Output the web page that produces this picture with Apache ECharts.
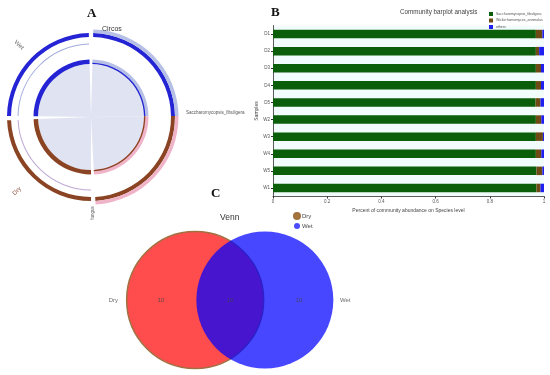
<!DOCTYPE html>
<html><head><meta charset="utf-8">
<script src="https://cdn.jsdelivr.net/npm/echarts@6/dist/echarts.min.js"></script>
<style>html,body{margin:0;padding:0;background:#fff}#c{width:550px;height:375px}</style>
</head><body><div id="c"></div>
<script>
// ---- Panel B data ----
const barCategories = ['D1','D2','D3','D4','D5','W2','W3','W4','W5','W1'];
const speciesNames = ['Saccharomycopsis_fibuligera','Wickerhamomyces_anomalus','others'];
const sacchValues  = [0.970,0.970,0.970,0.970,0.969,0.970,0.970,0.970,0.972,0.972];
const wickValues   = [0.024,0.012,0.019,0.019,0.018,0.020,0.026,0.020,0.022,0.015];
const otherValues  = [0.006,0.018,0.011,0.011,0.013,0.010,0.004,0.010,0.006,0.013];
// ---- Panel A data ----
const circosSamples = ['Dry','Wet'];
const circosSpecies = 'Saccharomycopsis_fibuligera';
const circosGroupLabel = 'fungus';
// ---- Panel C data ----
const vennSets = ['Dry','Wet'];
const vennRegionCounts = [10, 10, 10]; // Dry only, shared, Wet only

const dryAb = sacchValues.filter((v,i)=>barCategories[i][0]==='D').reduce((a,b)=>a+b,0);
const wetAb = sacchValues.filter((v,i)=>barCategories[i][0]==='W').reduce((a,b)=>a+b,0);
const total = 2*(dryAb+wetAb);
const gap = total/117;
const T = 'rgba(0,0,0,0)';
const C = [91,117];
function ring(radius, cols, z){
  const vals = [wetAb, dryAb, gap, dryAb, gap, wetAb, gap];
  const names = [circosSpecies+'-Wet', circosSpecies+'-Dry','g1',circosSamples[0],'g2',circosSamples[1],'g3'];
  return {type:'pie', center:C, radius:radius, startAngle:90-1.5, clockwise:true, silent:true,
    animation:false, z:z, label:{show:false}, labelLine:{show:false}, minAngle:0, avoidLabelOverlap:false,
    emphasis:{disabled:true},
    data: vals.map((v,i)=>({name:names[i], value:v, itemStyle:{color:cols[i], borderWidth:0}}))};
}
const BL='#2424d4', BR='#8a4424', LB='#b6c0e6', PK='#f0b4c8', LAV='#e0e4f2';
const pies = [
  ring([0,53], [LAV,LAV,T,LAV,T,LAV,T], 1),
  ring([53,57.5], [LB,PK,T,BR,T,BL,T], 2),
  ring([53,54.3], [BL,BR,T,T,T,T,T], 3),
  ring([72.5,73.5], [T,T,T,'#c0a8d4',T,'#a4acdc',T], 2),
  ring([80,84], [BL,BR,T,BR,T,BL,T], 2),
  ring([84,87.5], [LB,PK,T,T,T,T,T], 2)
];

const chart = echarts.init(document.getElementById('c'), null, {renderer:'canvas'});
const FF = 'Liberation Sans, Arial, sans-serif';
const option = {
  backgroundColor:'#fff',
  animation:false,
  textStyle:{fontFamily:FF},
  title:[
    {text:'A', left:82, top:2, textStyle:{fontFamily:'Liberation Serif', fontWeight:'bold', fontSize:13, color:'#111'}},
    {text:'B', left:266, top:1, textStyle:{fontFamily:'Liberation Serif', fontWeight:'bold', fontSize:13, color:'#111'}},
    {text:'C', left:206, top:182, textStyle:{fontFamily:'Liberation Serif', fontWeight:'bold', fontSize:13, color:'#111'}},
    {text:'Circos', left:97, top:21, textStyle:{fontSize:7, fontWeight:'normal', color:'#333', fontFamily:FF}},
    {text:'Community barplot analysis', left:395, top:4, textStyle:{fontSize:6.3, fontWeight:'normal', color:'#444', fontFamily:FF}},
    {text:'Venn', left:215, top:208, textStyle:{fontSize:8.5, fontWeight:'normal', color:'#333', fontFamily:FF}}
  ],
  legend:[
    {data:speciesNames, left:484, top:7, orient:'vertical', itemWidth:4, itemHeight:4, itemGap:2.5,
     icon:'rect', textStyle:{fontSize:3.5, lineHeight:4, color:'#555', padding:[0,0,0,-2]}, selectedMode:false},
    {data:[{name:vennSets[0], itemStyle:{color:'#a6773a'}},{name:vennSets[1], itemStyle:{color:'#4b4bff'}}],
     left:288, top:207, orient:'vertical', itemWidth:6, itemHeight:6, itemGap:3, icon:'circle',
     textStyle:{fontSize:6, color:'#444', padding:[0,0,0,-3]}, selectedMode:false}
  ],
  grid:[
    {left:273, top:25.5, width:271, height:171, containLabel:false, show:true, backgroundColor:'#f3fcfc', borderWidth:0},
    {left:92, top:231, width:276, height:138, show:false}
  ],
  xAxis:[
    {gridIndex:0, type:'value', min:0, max:1, interval:0.2,
     axisLine:{show:true, lineStyle:{color:'#333', width:0.8}}, axisTick:{show:true, length:2, lineStyle:{color:'#333'}},
     splitLine:{show:false}, axisLabel:{fontSize:4.5, color:'#555', margin:3, formatter:v=>String(+v.toFixed(1))},
     name:'Percent of community abundance on Species level', nameLocation:'middle', nameGap:12,
     nameTextStyle:{fontSize:5, color:'#444'}},
    {gridIndex:1, type:'value', min:-2, max:2, show:false}
  ],
  yAxis:[
    {gridIndex:0, type:'category', data:barCategories, inverse:true,
     axisLine:{show:true, lineStyle:{color:'#333', width:0.8}}, axisTick:{show:true, length:2, alignWithLabel:true, lineStyle:{color:'#333'}},
     axisLabel:{fontSize:4.5, color:'#555', margin:3},
     name:'Samples', nameLocation:'middle', nameGap:13, nameRotate:90, nameTextStyle:{fontSize:5, color:'#444'}},
    {gridIndex:1, type:'value', min:-1, max:1, show:false}
  ],
  series:[
    ...pies,
    {name:speciesNames[0], type:'bar', stack:'s', xAxisIndex:0, yAxisIndex:0, data:sacchValues, barWidth:8.5, itemStyle:{color:'#0b5f0b'}, silent:true},
    {name:speciesNames[1], type:'bar', stack:'s', xAxisIndex:0, yAxisIndex:0, data:wickValues, barWidth:8.5, itemStyle:{color:'#6e4a14'}, silent:true},
    {name:speciesNames[2], type:'bar', stack:'s', xAxisIndex:0, yAxisIndex:0, data:otherValues, barWidth:8.5, itemStyle:{color:'#1f1ff0'}, silent:true},
    {name:vennSets[0], type:'scatter', xAxisIndex:1, yAxisIndex:1, symbol:'circle', symbolSize:137, silent:true,
     data:[[-0.505,0]], itemStyle:{color:'rgba(255,0,0,0.7)', borderColor:'#a07040', borderWidth:1.5, opacity:1}, z:3},
    {name:vennSets[1], type:'scatter', xAxisIndex:1, yAxisIndex:1, symbol:'circle', symbolSize:137, silent:true,
     data:[[0.505,0]], itemStyle:{color:'rgba(0,0,255,0.72)', opacity:1}, z:4},
    {name:'vennLabels', type:'scatter', xAxisIndex:1, yAxisIndex:1, symbolSize:0, silent:true, z:6,
     data:[[-1,0,String(vennRegionCounts[0])],[0,0,String(vennRegionCounts[1])],[1,0,String(vennRegionCounts[2])],
           [-1.69,0,vennSets[0]],[1.67,0,vennSets[1]]],
     label:{show:true, position:'inside', formatter:p=>p.data[2], fontSize:6, color:'#444'}}
  ],
  graphic:[
    {type:'text', left:186, top:110, style:{text:circosSpecies, fontSize:4.5, fill:'#555', font:'4.5px '+FF}},
    {type:'text', x:19, y:45, rotation:-Math.PI/4, style:{text:circosSamples[1], fontSize:6, fill:'#666', align:'center', verticalAlign:'middle'}},
    {type:'text', x:17, y:191, rotation:Math.PI/4, style:{text:circosSamples[0], fontSize:6, fill:'#8a4a3a', align:'center', verticalAlign:'middle'}},
    {type:'text', x:93, y:213, rotation:Math.PI/2, style:{text:circosGroupLabel, fontSize:4.5, fill:'#666', align:'center', verticalAlign:'middle'}}
  ]
};
chart.setOption(option);
</script></body></html>
